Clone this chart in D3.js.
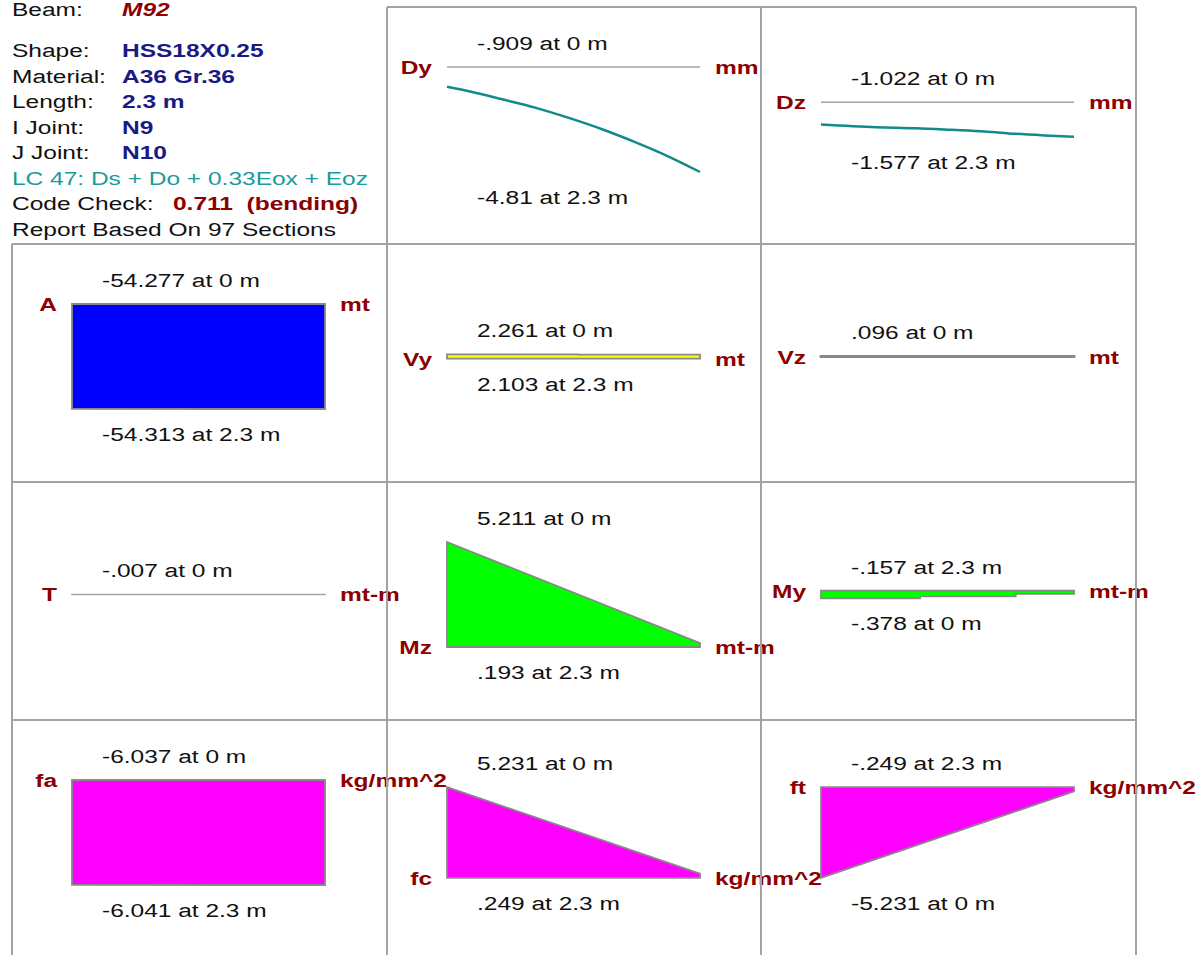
<!DOCTYPE html>
<html><head><meta charset="utf-8">
<script src="https://cdn.jsdelivr.net/npm/d3@7"></script>
<style>
html,body{margin:0;padding:0;background:#fff;}
svg{display:block;}
text{font-family:"Liberation Sans", Arial, sans-serif; white-space:pre;}
</style></head><body>
<svg id="c" width="1201" height="955"></svg>
<script>
// ---------------- data ----------------
const beamLabel = "Beam:";
const beamName = "M92";
const infoLabels = ["Shape:", "Material:", "Length:", "I Joint:", "J Joint:"];
const infoValues = ["HSS18X0.25", "A36 Gr.36", "2.3 m", "N9", "N10"];
const loadCombo = "LC 47: Ds + Do + 0.33Eox + Eoz";
const codeCheckLabel = "Code Check:";
const codeCheckValue = "0.711  (bending)";
const reportText = "Report Based On 97 Sections";

const panelNames = ["Dy", "Dz", "A", "Vy", "Vz", "T", "Mz", "My", "fa", "fc", "ft"];
const panelUnits = ["mm", "mm", "mt", "mt", "mt", "mt-m", "mt-m", "mt-m", "kg/mm^2", "kg/mm^2", "kg/mm^2"];
const maxLabels = ["-.909 at 0 m", "-1.022 at 0 m", "-54.277 at 0 m", "2.261 at 0 m", ".096 at 0 m",
  "-.007 at 0 m", "5.211 at 0 m", "-.157 at 2.3 m", "-6.037 at 0 m", "5.231 at 0 m", "-.249 at 2.3 m"];
const minLabels = ["-4.81 at 2.3 m", "-1.577 at 2.3 m", "-54.313 at 2.3 m", "2.103 at 2.3 m", "",
  "", ".193 at 2.3 m", "-.378 at 0 m", "-6.041 at 2.3 m", ".249 at 2.3 m", "-5.231 at 0 m"];

const beamLength = 2.3;
const dyX = [0, 0.257, 0.5, 0.8, 1.1, 1.41, 1.71, 2.01, 2.3];
const dyV = [-0.909, -1.177, -1.48, -1.86, -2.32, -2.85, -3.44, -4.09, -4.81];
const dzX = [0, 0.5, 0.86, 1.19, 1.49, 1.76, 2.03, 2.3];
const dzV = [-1.022, -1.142, -1.187, -1.262, -1.337, -1.442, -1.517, -1.577];
const aX = [0, 2.3];
const aV = [-54.277, -54.313];
const vyX = [0, 1.19, 1.19, 2.3];
const vyV = [2.261, 2.261, 2.103, 2.103];
const vzX = [0, 2.3];
const vzV = [0.096, 0.096];
const tX = [0, 2.3];
const tV = [-0.007, -0.007];
const mzX = [0, 2.3];
const mzV = [5.211, 0.193];
const myX = [0, 0.9, 0.9, 1.77, 1.77, 2.3];
const myV = [-0.378, -0.378, -0.28, -0.28, -0.157, -0.157];
const faX = [0, 2.3];
const faV = [-6.037, -6.041];
const fcX = [0, 2.3];
const fcV = [5.231, 0.249];
const ftX = [0, 2.3];
const ftV = [-5.231, -0.249];

// ---------------- layout / style ----------------
const stationsList = [dyX, dzX, aX, vyX, vzX, tX, mzX, myX, faX, fcX, ftX];
const valuesList = [dyV, dzV, aV, vyV, vzV, tV, mzV, myV, faV, fcV, ftV];
const panelRow = [0, 0, 1, 1, 1, 2, 2, 2, 3, 3, 3];
const panelCol = [1, 2, 0, 1, 2, 0, 1, 2, 0, 1, 2];
const panelGroup = [0, 0, 1, 1, 1, 2, 2, 2, 3, 3, 3];
const panelFill = [null, null, "#0000ff", "#ffff00", "#ffff00", "#00ff00", "#00ff00", "#00ff00", "#ff00ff", "#ff00ff", "#ff00ff"];

const colX = [12, 387, 761, 1136];
const rowY = [7, 244, 482, 720, 958];
const SX = 1.29, FS = 19;
const DARKRED = "#8b0000", NAVY = "#1a1a86", TEAL = "#1a9a9a", CURVE = "#138a8a";
const GRID = "#a3a3a3", OUTLINE = "#888888";
const MAXPX = 105;

const svg = d3.select("#c");
const gText = svg.append("g");
const gDiag = svg.append("g");
const gGrid = svg.append("g");

function txt(g, x, y, s, o = {}) {
  return g.append("text")
    .attr("transform", `translate(${x},${y}) scale(${SX},1)`)
    .attr("font-size", o.size || FS)
    .attr("font-weight", o.bold ? "bold" : "normal")
    .attr("font-style", o.italic ? "italic" : "normal")
    .attr("text-anchor", o.anchor || "start")
    .attr("fill", o.color || "#111")
    .text(s);
}

// ---------------- header ----------------
txt(gText, 12, 16, beamLabel);
txt(gText, 122, 16, beamName, {bold: true, italic: true, color: DARKRED});
const base0 = 57, lineH = 25.5;
infoLabels.forEach((l, i) => {
  txt(gText, 12, base0 + i * lineH, l);
  txt(gText, 122, base0 + i * lineH, infoValues[i], {bold: true, color: NAVY});
});
txt(gText, 12, base0 + 5 * lineH, loadCombo, {color: TEAL});
txt(gText, 12, base0 + 6 * lineH, codeCheckLabel);
txt(gText, 173, base0 + 6 * lineH, codeCheckValue, {bold: true, color: DARKRED});
txt(gText, 12, base0 + 7 * lineH, reportText);

// ---------------- scales per group ----------------
const groupMax = [0, 1, 2, 3].map(gi => d3.max(valuesList.filter((v, i) => panelGroup[i] === gi).flat(), d => Math.abs(d)));

panelNames.forEach((name, i) => {
  const xs = stationsList[i], vs = valuesList[i];
  const cellL = colX[panelCol[i]], cellT = rowY[panelRow[i]];
  const x = d3.scaleLinear().domain([0, beamLength]).range([cellL + 60, cellL + 313]);
  const lo = Math.min(0, d3.min(vs)), hi = Math.max(0, d3.max(vs));
  const h = (hi - lo) / groupMax[panelGroup[i]] * MAXPX;
  const cy = cellT + 112.5;
  const y = d3.scaleLinear().domain([lo, hi]).range([cy + h / 2, cy - h / 2]);
  const pts = xs.map((s, k) => [s, vs[k]]);

  if (panelFill[i] === null) {
    gDiag.append("line").attr("x1", x(0)).attr("x2", x(beamLength))
      .attr("y1", y(0)).attr("y2", y(0)).attr("stroke", GRID).attr("stroke-width", 1.5);
    gDiag.append("path").datum(pts)
      .attr("d", d3.line().x(d => x(d[0])).y(d => y(d[1])).curve(d3.curveMonotoneX))
      .attr("fill", "none").attr("stroke", CURVE).attr("stroke-width", 2.5);
  } else {
    const span = Math.abs(y(hi) - y(lo));
    gDiag.append("path")
      .attr("d", d3.area().x(d => x(d[0])).y0(y(0)).y1(d => y(d[1]))(pts))
      .attr("fill", panelFill[i]).attr("stroke", span < 0.16 ? GRID : OUTLINE)
      .attr("stroke-width", span < 0.16 ? 1.5 : (span < 1 ? 2.8 : 1.8))
      .attr("stroke-linejoin", "miter");
  }

  const top = y(hi), bot = y(lo);
  txt(gText, x(0) + 30, top - 17, maxLabels[i]);
  if (minLabels[i]) txt(gText, x(0) + 30, bot + 32, minLabels[i]);
  txt(gText, x(0) - 15, y(0) + 7, name, {bold: true, color: DARKRED, anchor: "end"});
  txt(gText, x(beamLength) + 15, y(0) + 7, panelUnits[i], {bold: true, color: DARKRED});
});

// ---------------- grid ----------------
const gl = (x1, y1, x2, y2) => gGrid.append("line").attr("x1", x1).attr("y1", y1).attr("x2", x2).attr("y2", y2)
  .attr("stroke", GRID).attr("stroke-width", 2);
gl(colX[0], rowY[1], colX[0], rowY[4]);
gl(colX[1], rowY[0], colX[1], rowY[4]);
gl(colX[2], rowY[0], colX[2], rowY[4]);
gl(colX[3], rowY[0], colX[3], rowY[4]);
gl(colX[1], rowY[0], colX[3], rowY[0]);
gl(colX[0], rowY[1], colX[3], rowY[1]);
gl(colX[0], rowY[2], colX[3], rowY[2]);
gl(colX[0], rowY[3], colX[3], rowY[3]);
</script>
</body></html>
